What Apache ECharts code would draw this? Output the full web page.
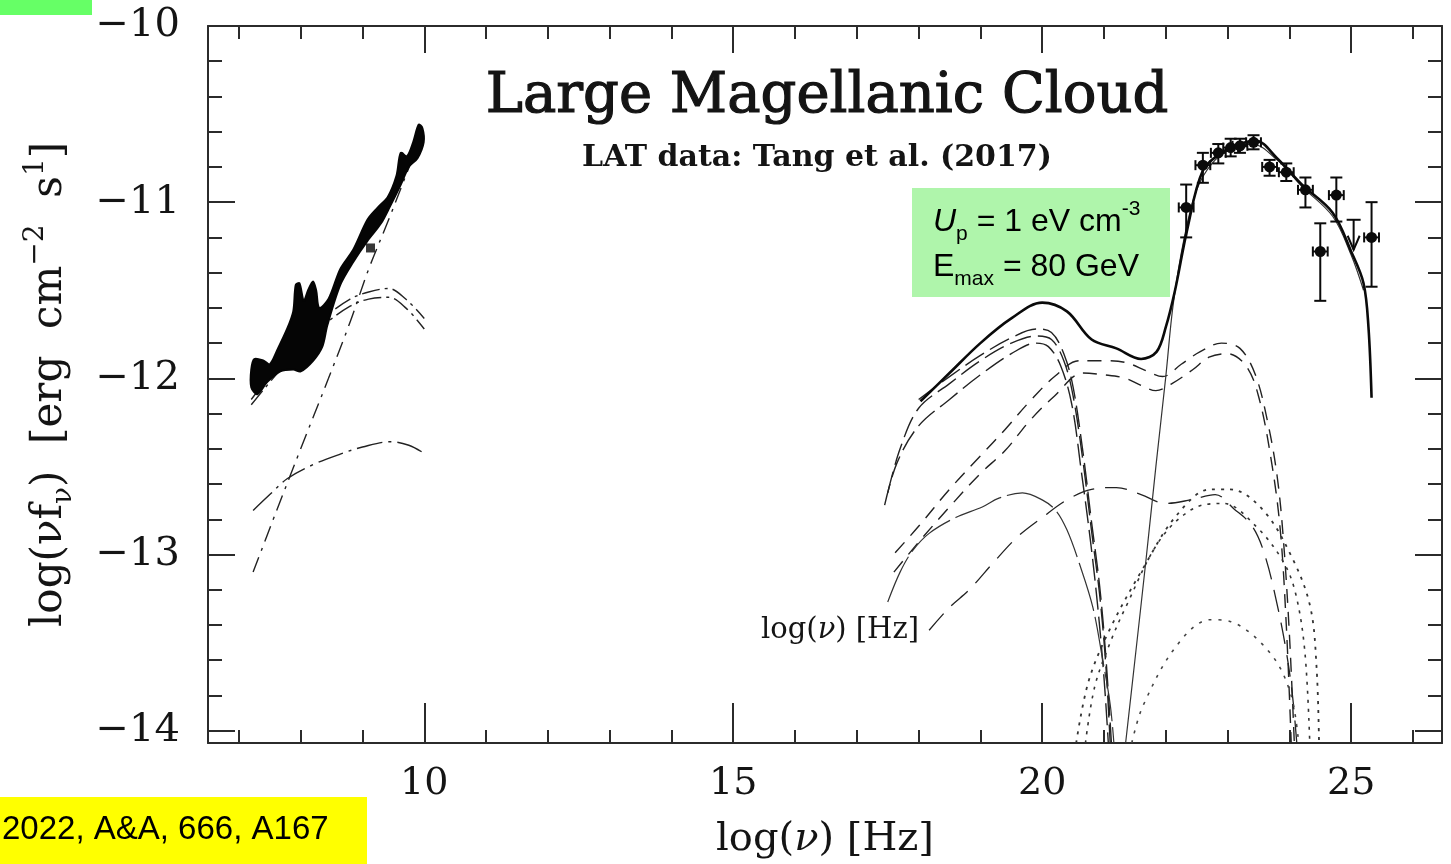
<!DOCTYPE html>
<html>
<head>
<meta charset="utf-8">
<script src="https://cdn.jsdelivr.net/npm/echarts@6/dist/echarts.min.js"></script>
<style>
html,body{margin:0;padding:0;background:#fff;}
#chart{width:1451px;height:864px;}
</style>
</head>
<body>
<div id="chart"></div>
<script>
// ---------- axis ticks ----------
const xMinorTicks = [7,8,9,10,11,12,13,14,15,16,17,18,19,20,21,22,23,24,25,26];
const xMajorTicks = [10,15,20,25];
const yMinorTicks = [-14,-13.8,-13.6,-13.4,-13.2,-13,-12.8,-12.6,-12.4,-12.2,-12,-11.8,-11.6,-11.4,-11.2,-11,-10.8,-10.6,-10.4,-10.2,-10];
const yMajorTicks = [-14,-13,-12,-11,-10];

// ---------- radio data: band of measured fluxes (upper edge, then lower edge back) ----------
const radioBandUpper = [[7.2,-11.95],[7.25,-11.89],[7.4,-11.9],[7.5,-11.92],[7.62,-11.84],[7.78,-11.72],[7.88,-11.62],[7.92,-11.47],[7.98,-11.46],[8.05,-11.56],[8.12,-11.5],[8.2,-11.45],[8.25,-11.5],[8.3,-11.6],[8.45,-11.55],[8.64,-11.38],[8.85,-11.27],[9.08,-11.1],[9.25,-11.03],[9.41,-10.97],[9.55,-10.85],[9.62,-10.72],[9.72,-10.74],[9.82,-10.66],[9.91,-10.56],[9.97,-10.58]];
const radioBandLower = [[9.99,-10.66],[9.89,-10.75],[9.75,-10.8],[9.62,-10.9],[9.45,-11.02],[9.3,-11.12],[9.08,-11.22],[8.85,-11.34],[8.64,-11.47],[8.43,-11.7],[8.35,-11.82],[8.2,-11.9],[8.0,-11.96],[7.88,-11.95],[7.67,-11.96],[7.46,-12.02],[7.3,-12.09],[7.2,-12.05]];
const radioPoint = [[9.13,-11.26]];

// ---------- radio models ----------
const radioSyncA = [[7.2,-12.12],[7.6,-11.94],[8.0,-11.78],[8.4,-11.65],[8.8,-11.55],[9.1,-11.51],[9.42,-11.49],[9.7,-11.55],[10.0,-11.66]];
const radioSyncB = [[7.2,-12.15],[7.6,-11.98],[8.0,-11.82],[8.4,-11.69],[8.8,-11.59],[9.1,-11.55],[9.42,-11.54],[9.7,-11.6],[10.0,-11.72]];
const radioFreeFree = [[7.23,-12.75],[7.5,-12.66],[7.78,-12.57],[8.2,-12.49],[8.64,-12.43],[9.0,-12.39],[9.45,-12.36],[9.75,-12.38],[10.02,-12.43]];
const radioSteep = [[7.23,-13.1],[7.6,-12.76],[8.0,-12.4],[8.45,-12.0],[8.8,-11.68],[9.1,-11.38],[9.4,-11.12],[9.7,-10.85],[9.95,-10.62]];

// ---------- high-energy models ----------
const totalModel = [[18.03,-12.13],[18.5,-11.97],[19.0,-11.8],[19.5,-11.66],[20.0,-11.57],[20.4,-11.62],[20.8,-11.78],[21.2,-11.83],[21.6,-11.89],[21.85,-11.85],[22.0,-11.71],[22.15,-11.5],[22.35,-11.15],[22.6,-10.82],[22.9,-10.72],[23.2,-10.67],[23.45,-10.65],[23.8,-10.75],[24.2,-10.9],[24.7,-11.06],[25.0,-11.28],[25.2,-11.46],[25.28,-11.71],[25.33,-12.11]];
const pionDecay = [[21.35,-14.07],[21.5,-13.6],[21.68,-13.03],[21.84,-12.5],[22.0,-11.99],[22.12,-11.58],[22.3,-11.2],[22.5,-10.93],[22.75,-10.78],[23.05,-10.7],[23.4,-10.67],[23.8,-10.76],[24.2,-10.91],[24.7,-11.08],[25.0,-11.3],[25.2,-11.5]];
const bremsA1 = [[18.0,-12.12],[18.5,-11.99],[19.0,-11.87],[19.5,-11.77],[19.9,-11.72],[20.15,-11.74],[20.35,-11.86],[20.5,-12.05],[20.66,-12.42],[20.8,-12.82],[20.93,-13.18],[21.03,-13.58],[21.12,-14.07]];
const bremsA2 = [[17.5,-12.65],[17.7,-12.4],[18.0,-12.17],[18.5,-12.03],[19.0,-11.9],[19.5,-11.8],[19.9,-11.76],[20.15,-11.78],[20.35,-11.9],[20.5,-12.1],[20.66,-12.47],[20.8,-12.87],[20.93,-13.23],[21.03,-13.63],[21.1,-14.07]];
const bremsA3 = [[17.45,-12.72],[17.65,-12.48],[18.0,-12.27],[18.5,-12.12],[19.0,-11.98],[19.5,-11.86],[19.9,-11.8],[20.1,-11.82],[20.3,-11.93],[20.48,-12.15],[20.63,-12.52],[20.78,-12.92],[20.9,-13.3],[21.0,-13.7],[21.07,-14.07]];
const icC1 = [[17.62,-12.99],[18.0,-12.84],[18.5,-12.63],[19.0,-12.44],[19.4,-12.29],[19.8,-12.13],[20.2,-11.99],[20.6,-11.9],[21.0,-11.9],[21.35,-11.91],[21.7,-11.96],[21.95,-11.99],[22.25,-11.92],[22.55,-11.85],[22.9,-11.8],[23.2,-11.83],[23.45,-11.98],[23.65,-12.25],[23.8,-12.55],[23.9,-12.9],[24.0,-13.45],[24.08,-14.07]];
const icC2 = [[17.6,-13.1],[18.0,-12.93],[18.5,-12.73],[19.0,-12.54],[19.4,-12.41],[19.8,-12.24],[20.2,-12.1],[20.66,-11.97],[21.0,-11.98],[21.35,-12.0],[21.6,-12.04],[21.84,-12.07],[22.1,-12.03],[22.44,-11.95],[22.7,-11.88],[23.0,-11.86],[23.3,-11.93],[23.5,-12.1],[23.7,-12.45],[23.85,-12.85],[23.95,-13.4],[24.03,-14.07]];
const icD = [[18.17,-13.43],[18.5,-13.3],[18.82,-13.2],[19.2,-13.05],[19.6,-12.9],[20.0,-12.79],[20.4,-12.69],[20.8,-12.63],[21.2,-12.62],[21.6,-12.66],[22.0,-12.71],[22.4,-12.69],[22.8,-12.66],[23.1,-12.74],[23.4,-12.84],[23.6,-13.0],[23.8,-13.28],[23.95,-13.55],[24.05,-13.8],[24.12,-14.07]];
const secE = [[17.5,-13.27],[17.7,-13.1],[17.9,-12.98],[18.17,-12.88],[18.6,-12.79],[19.03,-12.73],[19.3,-12.68],[19.68,-12.65],[20.0,-12.69],[20.22,-12.75],[20.4,-12.86],[20.6,-13.05],[20.82,-13.3],[20.98,-13.6],[21.1,-13.85],[21.16,-14.07]];
const dotG1 = [[20.55,-14.07],[20.75,-13.72],[21.1,-13.42],[21.63,-13.08],[22.17,-12.78],[22.72,-12.63],[23.04,-12.63],[23.58,-12.75],[24.06,-13.03],[24.34,-13.3],[24.44,-13.64],[24.48,-14.07]];
const dotG2 = [[20.7,-14.07],[20.85,-13.75],[21.1,-13.5],[21.35,-13.3],[21.9,-12.92],[22.44,-12.74],[22.93,-12.71],[23.46,-12.84],[23.9,-13.04],[24.1,-13.22],[24.25,-13.55],[24.33,-14.07]];
const dotG3 = [[21.45,-14.07],[21.63,-13.86],[22.17,-13.52],[22.72,-13.37],[23.04,-13.38],[23.69,-13.56],[24.02,-13.79],[24.15,-14.07]];

// ---------- Fermi-LAT points ----------
const latX    = [22.33,22.6,22.85,23.05,23.2,23.42,23.68,23.95,24.26,24.5,24.76,25.33];
const latY    = [-11.03,-10.79,-10.72,-10.69,-10.68,-10.66,-10.8,-10.83,-10.93,-11.28,-10.96,-11.2];
const latYLo  = [-11.2,-10.89,-10.78,-10.74,-10.72,-10.7,-10.85,-10.88,-11.03,-11.56,-11.11,-11.48];
const latYHi  = [-10.9,-10.72,-10.67,-10.64,-10.64,-10.62,-10.76,-10.78,-10.86,-11.12,-10.86,-11.0];
const latXErr = [0.12,0.12,0.12,0.12,0.12,0.12,0.12,0.12,0.12,0.12,0.12,0.12];
const latUpperLimit = [[25.04,-11.1,-11.27]];

const SERIF = '"DejaVu Serif", "Liberation Serif", serif';
const INK = '#141414';
const X_MIN = 6.5, X_MAX = 26.47, Y_MIN = -14.07, Y_MAX = -10;

function lineSeries(data, width, dash, color) {
  return {
    type: 'line', data: data, showSymbol: false, smooth: 0.35,
    xAxisIndex: 0, yAxisIndex: 0, z: 3, silent: true,
    lineStyle: { color: color || '#222', width: width, type: dash || 'solid' }
  };
}

function xAxisDef(pos, ticks, len, opts) {
  return Object.assign({
    type: 'value', min: X_MIN, max: X_MAX, position: pos, gridIndex: 0,
    axisLine: { show: true, onZero: false, lineStyle: { color: '#2b2b2b', width: 2 } },
    axisTick: { show: true, inside: true, length: len, customValues: ticks, lineStyle: { color: '#2b2b2b', width: 2 } },
    axisLabel: { show: false },
    splitLine: { show: false }
  }, opts || {});
}
function yAxisDef(pos, ticks, len, opts) {
  return Object.assign({
    type: 'value', min: Y_MIN, max: Y_MAX, position: pos, gridIndex: 0,
    axisLine: { show: true, onZero: false, lineStyle: { color: '#2b2b2b', width: 2 } },
    axisTick: { show: true, inside: true, length: len, customValues: ticks, lineStyle: { color: '#2b2b2b', width: 2 } },
    axisLabel: { show: false },
    splitLine: { show: false }
  }, opts || {});
}

const chart = echarts.init(document.getElementById('chart'), null, { renderer: 'canvas' });

const option = {
  animation: false,
  backgroundColor: '#ffffff',
  grid: { left: 208, right: 9, top: 26, bottom: 121, containLabel: false, outerBoundsMode: 'none' },
  xAxis: [
    xAxisDef('bottom', xMinorTicks, 13, {
      axisLabel: {
        show: true, customValues: xMajorTicks, margin: 22,
        fontFamily: SERIF, fontSize: 38, color: INK
      },
      name: 'log({it|ν}) [Hz]', nameLocation: 'middle', nameGap: 77,
      nameTextStyle: {
        fontFamily: SERIF, fontSize: 40, color: INK,
        rich: { it: { fontFamily: SERIF, fontSize: 40, fontStyle: 'italic', color: INK } }
      }
    }),
    xAxisDef('bottom', xMajorTicks, 40, { axisLine: { show: false } }),
    xAxisDef('top', xMinorTicks, 13),
    xAxisDef('top', xMajorTicks, 27, { axisLine: { show: false } })
  ],
  yAxis: [
    yAxisDef('left', yMinorTicks, 14, {
      axisLabel: {
        show: true, customValues: yMajorTicks, margin: 28,
        fontFamily: SERIF, fontSize: 40, color: INK,
        formatter: v => (v < 0 ? '\u2212' : '') + Math.abs(Math.round(v))
      },
      name: 'log(ν{r|f}{sub|ν})  [erg  cm{sup|−2}  s{sup|1}]',
      nameLocation: 'middle', nameRotate: 90, nameGap: 130,
      nameTextStyle: {
        fontFamily: SERIF, fontSize: 42, color: INK, lineHeight: 56,
        rich: {
          r: { fontFamily: SERIF, fontSize: 42, color: INK, lineHeight: 56 },
          sub: { fontFamily: SERIF, fontSize: 28, color: INK, verticalAlign: 'bottom', lineHeight: 56 },
          sup: { fontFamily: SERIF, fontSize: 28, color: INK, verticalAlign: 'top', lineHeight: 56 }
        }
      }
    }),
    yAxisDef('left', yMajorTicks, 27, { axisLine: { show: false } }),
    yAxisDef('right', yMinorTicks, 14),
    yAxisDef('right', yMajorTicks, 27, { axisLine: { show: false } })
  ],
  series: [
    // radio band
    {
      type: 'custom', xAxisIndex: 0, yAxisIndex: 0, z: 4, silent: true,
      data: radioBandUpper.concat(radioBandLower),
      encode: { x: 0, y: 1 },
      renderItem: function (params, api) {
        if (params.dataIndex !== 0) return null;
        const pts = radioBandUpper.concat(radioBandLower).map(p => api.coord(p));
        return { type: 'polygon', shape: { points: pts, smooth: 0.3 }, style: { fill: '#050505', stroke: '#050505', lineWidth: 2 } };
      }
    },
    {
      type: 'scatter', data: radioPoint, xAxisIndex: 0, yAxisIndex: 0, z: 5, silent: true,
      symbol: 'rect', symbolSize: 9, itemStyle: { color: '#050505' }
    },
    lineSeries(radioSyncA, 1.4, [18, 5, 3, 5]),
    lineSeries(radioSyncB, 1.4, [18, 5, 3, 5]),
    lineSeries(radioFreeFree, 1.4, [26, 6, 3, 6]),
    lineSeries(radioSteep, 1.4, [16, 7, 3, 7]),
    // high-energy components
    lineSeries(bremsA1, 1.4, [22, 7]),
    lineSeries(bremsA2, 1.4, [22, 7]),
    lineSeries(bremsA3, 1.4, [22, 7]),
    lineSeries(icC1, 1.4, [14, 9]),
    lineSeries(icC2, 1.4, [14, 9]),
    lineSeries(icD, 1.3, [22, 11]),
    lineSeries(secE, 1.2, [50, 6], '#333'),
    lineSeries(dotG1, 1.8, [3, 6], '#333'),
    lineSeries(dotG2, 1.6, [3, 6], '#333'),
    lineSeries(dotG3, 1.6, [3, 7], '#444'),
    lineSeries(pionDecay, 1.2, 'solid', '#333'),
    Object.assign(lineSeries(totalModel, 2.6, 'solid', '#0a0a0a'), { z: 6 }),
    // LAT spectral points
    {
      type: 'custom', xAxisIndex: 0, yAxisIndex: 0, z: 7, silent: true,
      data: latX.map((x, i) => [x, latY[i], latYLo[i], latYHi[i], latXErr[i]]),
      encode: { x: 0, y: 1 },
      renderItem: function (params, api) {
        const x = api.value(0), y = api.value(1), lo = api.value(2), hi = api.value(3), xe = api.value(4);
        const c = api.coord([x, y]);
        const cLo = api.coord([x, lo]);
        const cHi = api.coord([x, hi]);
        const cL = api.coord([x - xe, y]);
        const cR = api.coord([x + xe, y]);
        const st = { stroke: '#0a0a0a', lineWidth: 2 };
        return {
          type: 'group', children: [
            { type: 'line', shape: { x1: c[0], y1: cLo[1], x2: c[0], y2: cHi[1] }, style: st },
            { type: 'line', shape: { x1: c[0] - 6, y1: cLo[1], x2: c[0] + 6, y2: cLo[1] }, style: st },
            { type: 'line', shape: { x1: c[0] - 6, y1: cHi[1], x2: c[0] + 6, y2: cHi[1] }, style: st },
            { type: 'line', shape: { x1: cL[0], y1: c[1], x2: cR[0], y2: c[1] }, style: st },
            { type: 'line', shape: { x1: cL[0], y1: c[1] - 5, x2: cL[0], y2: c[1] + 5 }, style: st },
            { type: 'line', shape: { x1: cR[0], y1: c[1] - 5, x2: cR[0], y2: c[1] + 5 }, style: st },
            { type: 'circle', shape: { cx: c[0], cy: c[1], r: 5.5 }, style: { fill: '#0a0a0a' } }
          ]
        };
      }
    },
    // LAT upper limit
    {
      type: 'custom', xAxisIndex: 0, yAxisIndex: 0, z: 7, silent: true,
      data: latUpperLimit,
      encode: { x: 0, y: 1 },
      renderItem: function (params, api) {
        const top = api.coord([api.value(0), api.value(1)]);
        const tip = api.coord([api.value(0), api.value(2)]);
        const st = { stroke: '#0a0a0a', lineWidth: 2 };
        return {
          type: 'group', children: [
            { type: 'line', shape: { x1: top[0] - 7, y1: top[1], x2: top[0] + 7, y2: top[1] }, style: st },
            { type: 'line', shape: { x1: top[0], y1: top[1], x2: tip[0], y2: tip[1] }, style: st },
            { type: 'polyline', shape: { points: [[tip[0] - 6, tip[1] - 14], [tip[0], tip[1]], [tip[0] + 6, tip[1] - 14]] }, style: { stroke: '#0a0a0a', lineWidth: 2, fill: null } }
          ]
        };
      }
    }
  ],
  graphic: [
    {
      type: 'text', x: 827, y: 97, z: 10, silent: true,
      style: { text: 'Large Magellanic Cloud', font: '56px "DejaVu Serif"', fill: INK, stroke: INK, lineWidth: 1.2, align: 'center', verticalAlign: 'middle', textAlign: 'center', textVerticalAlign: 'middle' }
    },
    {
      type: 'text', x: 817, y: 158, z: 10, silent: true,
      style: { text: 'LAT data: Tang et al. (2017)', font: 'bold 30px "DejaVu Serif"', fill: INK, align: 'center', verticalAlign: 'middle', textAlign: 'center', textVerticalAlign: 'middle' }
    },
    {
      type: 'text', x: 840, y: 630, z: 10, silent: true,
      style: {
        text: 'log({it|ν}) [Hz]', font: '29px "DejaVu Serif"', fill: INK,
        align: 'center', verticalAlign: 'middle', textAlign: 'center', textVerticalAlign: 'middle',
        rich: { it: { fontFamily: 'DejaVu Serif', fontSize: 29, fontStyle: 'italic', fill: INK } }
      }
    },
    // parameter box
    { type: 'rect', z: 8, silent: true, shape: { x: 912, y: 188, width: 258, height: 109 }, style: { fill: '#aff5ab' } },
    {
      type: 'text', x: 933, y: 222, z: 9, silent: true,
      style: {
        text: '{i|U}{sub|p}{b| = 1 eV cm}{sup|-3}',
        fill: '#000', align: 'left', verticalAlign: 'middle', textAlign: 'left', textVerticalAlign: 'middle',
        rich: {
          i: { fontFamily: 'Liberation Sans', fontSize: 32, fontStyle: 'italic', fill: '#000', lineHeight: 46, verticalAlign: 'middle' },
          b: { fontFamily: 'Liberation Sans', fontSize: 32, fill: '#000', lineHeight: 46, verticalAlign: 'middle' },
          sub: { fontFamily: 'Liberation Sans', fontSize: 21, fill: '#000', lineHeight: 21, verticalAlign: 'bottom' },
          sup: { fontFamily: 'Liberation Sans', fontSize: 21, fill: '#000', lineHeight: 21, verticalAlign: 'top' }
        }
      }
    },
    {
      type: 'text', x: 933, y: 267, z: 9, silent: true,
      style: {
        text: '{b|E}{sub|max}{b| = 80 GeV}',
        fill: '#000', align: 'left', verticalAlign: 'middle', textAlign: 'left', textVerticalAlign: 'middle',
        rich: {
          b: { fontFamily: 'Liberation Sans', fontSize: 32, fill: '#000', lineHeight: 46, verticalAlign: 'middle' },
          sub: { fontFamily: 'Liberation Sans', fontSize: 21, fill: '#000', lineHeight: 21, verticalAlign: 'bottom' }
        }
      }
    },
    // corner tags
    { type: 'rect', z: 8, silent: true, shape: { x: 0, y: 0, width: 92, height: 15 }, style: { fill: '#66ff66' } },
    { type: 'rect', z: 8, silent: true, shape: { x: 0, y: 797, width: 367, height: 67 }, style: { fill: '#ffff00' } },
    {
      type: 'text', x: 2, y: 830, z: 9, silent: true,
      style: { text: '2022, A&A, 666, A167', font: '33px "Liberation Sans"', fill: '#000', align: 'left', verticalAlign: 'middle', textAlign: 'left', textVerticalAlign: 'middle' }
    }
  ]
};

chart.setOption(option);
</script>
</body>
</html>
